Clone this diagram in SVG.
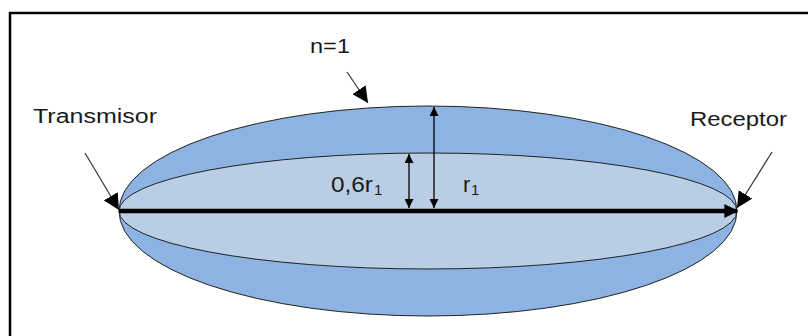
<svg xmlns="http://www.w3.org/2000/svg" width="808" height="336" viewBox="0 0 808 336">
<defs>
<style>
.lbl{font-family:"Liberation Sans",Arial,sans-serif;font-size:20px;fill:#1a1a1a}
.big{font-size:22px}
.sub{font-family:"Liberation Sans",Arial,sans-serif;font-size:15px;fill:#1a1a1a}
.ptr{stroke:#333;stroke-width:1.2;fill:none}
.dim{stroke:#000;stroke-width:1.3;fill:none}
</style>
<marker id="ahp" viewBox="0 0 10 10" refX="10" refY="5" markerWidth="16" markerHeight="16" markerUnits="userSpaceOnUse" orient="auto"><path d="M0,0 L10,5 L0,10 z" fill="#000"/></marker>
<marker id="ahs" viewBox="0 0 10 10" refX="10" refY="5" markerWidth="9" markerHeight="9" markerUnits="userSpaceOnUse" orient="auto-start-reverse"><path d="M0,0 L10,5 L0,10 z" fill="#000"/></marker>
<marker id="ahbig" viewBox="0 0 10 10" refX="9" refY="5" markerWidth="16" markerHeight="14" markerUnits="userSpaceOnUse" orient="auto"><path d="M0,0 L10,5 L0,10 z" fill="#000"/></marker>
<filter id="sh" x="-5%" y="-200%" width="110%" height="500%"><feGaussianBlur stdDeviation="2"/></filter>
</defs>
<rect width="808" height="336" fill="#fff"/>
<path d="M10,336 V13 H808" fill="none" stroke="#000" stroke-width="2.5"/>
<g id="outer"><ellipse cx="428" cy="211" rx="309" ry="105" fill="#8DB3E2" stroke="#222" stroke-width="1"/></g>
<g id="inner"><ellipse cx="428" cy="211" rx="309" ry="58" fill="#B9CDE5" stroke="#222" stroke-width="1"/></g>
<g id="connectors">
<line x1="122" y1="214" x2="730" y2="214" stroke="#555" stroke-width="4" filter="url(#sh)" opacity="0.6"/>
<line x1="119" y1="211" x2="737" y2="211" stroke="#000" stroke-width="4.5" marker-end="url(#ahbig)"/>
<line class="dim" x1="434" y1="208" x2="434" y2="107" marker-start="url(#ahs)" marker-end="url(#ahs)"/>
<line class="dim" x1="409" y1="208" x2="409" y2="154" marker-start="url(#ahs)" marker-end="url(#ahs)"/>
<line class="ptr" x1="347" y1="72" x2="368" y2="103" marker-end="url(#ahp)"/>
<line class="ptr" x1="85" y1="153" x2="119" y2="210" marker-end="url(#ahp)"/>
<line class="ptr" x1="772" y1="152" x2="737" y2="208" marker-end="url(#ahp)"/>
</g>
<g id="labels">
<text class="lbl" x="310" y="53" textLength="40" lengthAdjust="spacingAndGlyphs">n=1</text>
<text class="lbl" x="33" y="123" textLength="124" lengthAdjust="spacingAndGlyphs">Transmisor</text>
<text class="lbl" x="690" y="126" textLength="97" lengthAdjust="spacingAndGlyphs">Receptor</text>
<text class="lbl big" x="331" y="192" textLength="42" lengthAdjust="spacingAndGlyphs">0,6r</text>
<text class="sub" x="374" y="195">1</text>
<text class="lbl big" x="463" y="192">r</text>
<text class="sub" x="471" y="195">1</text>
</g>
</svg>
